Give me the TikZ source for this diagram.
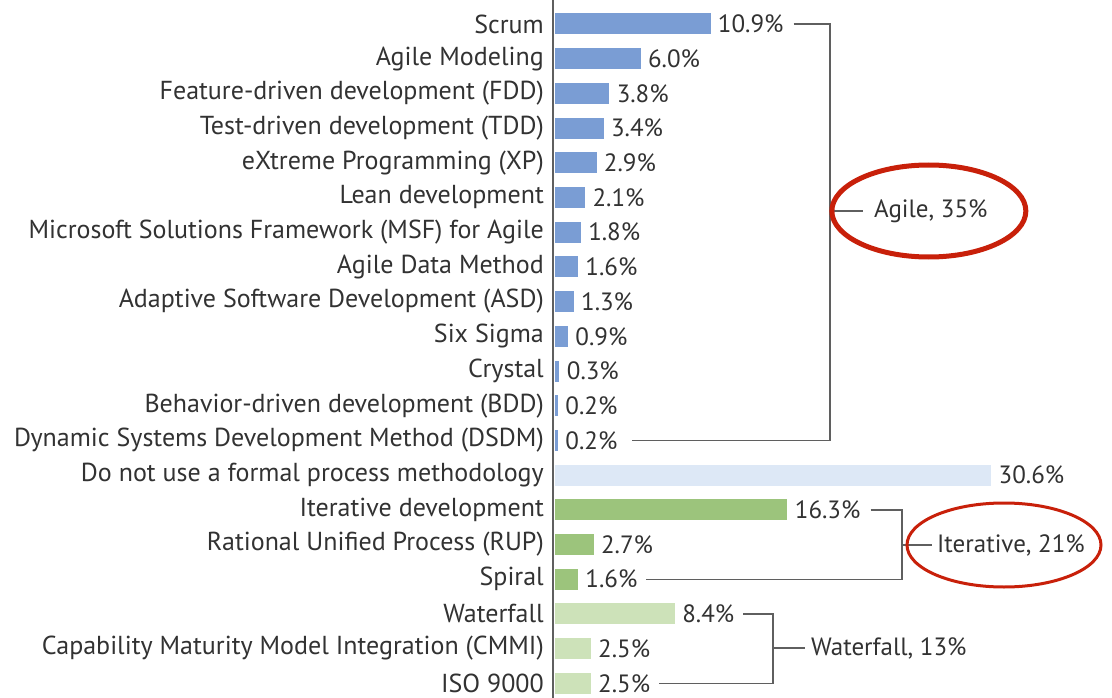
\documentclass[tikz,border=0pt]{standalone}
\usepackage{fontspec}
\setmainfont{PT Sans}
\usetikzlibrary{positioning,calc}
\definecolor{agileblue}{RGB}{122,157,212}
\definecolor{noneblue}{RGB}{221,232,246}
\definecolor{itergreen}{RGB}{156,196,124}
\definecolor{fallgreen}{RGB}{205,226,185}
\definecolor{ringred}{RGB}{200,32,10}
\definecolor{inkgray}{RGB}{50,50,50}
\definecolor{linegray}{RGB}{95,95,95}

\begin{document}
\begin{tikzpicture}[x=1pt,y=-1pt,
  every node/.style={font=\fontsize{25}{30}\selectfont, text=inkgray, inner sep=0pt},
  rowlabel/.style={anchor=east, font=\fontsize{26}{30}\selectfont},
  pct/.style={anchor=west},
  bar/.style={minimum height=21pt, anchor=west},
  bracket/.style={draw=linegray, line width=1.4pt},
  ring/.style={draw=ringred, line width=5pt}]
\useasboundingbox (0,0) rectangle (1112,698);
% axis
\draw[linegray, line width=1.4pt] (553,0) -- (553,698);
% rows: label / share / colour
\foreach \name/\val/\col [count=\i] in {
  Scrum/10.9/agileblue,
  Agile Modeling/6.0/agileblue,
  Feature-driven development (FDD)/3.8/agileblue,
  Test-driven development (TDD)/3.4/agileblue,
  eXtreme Programming (XP)/2.9/agileblue,
  Lean development/2.1/agileblue,
  Microsoft Solutions Framework (MSF) for Agile/1.8/agileblue,
  Agile Data Method/1.6/agileblue,
  Adaptive Software Development (ASD)/1.3/agileblue,
  Six Sigma/0.9/agileblue,
  Crystal/0.3/agileblue,
  Behavior-driven development (BDD)/0.2/agileblue,
  Dynamic Systems Development Method (DSDM)/0.2/agileblue,
  Do not use a formal process methodology/30.6/noneblue,
  Iterative development/16.3/itergreen,
  Rational Unified Process (RUP)/2.7/itergreen,
  Spiral/1.6/itergreen,
  Waterfall/8.4/fallgreen,
  Capability Maturity Model Integration (CMMI)/2.5/fallgreen,
  ISO 9000/2.5/fallgreen} {
  \pgfmathsetmacro{\y}{24+34.7*(\i-1)}
  \node[rowlabel] (lab\i) at (544,\y) {\name};
  \node[bar, fill=\col, minimum width=\val*14.25] (bar\i) at (555,\y) {};
  \node[pct, right=7pt of bar\i] (val\i) {\val\%};
}
% Agile group
\coordinate (agilejoin) at (830,211);
\node[pct] (agile) at (874,211) {Agile, 35\%};
\draw[bracket] ([xshift=10pt]val1.east) -| (agilejoin) |- ([xshift=14pt]val13.east);
\draw[bracket] (agilejoin) -- ([xshift=-11pt]agile.west);
\draw[ring] ([xshift=-2pt]agile.center) ellipse [x radius=97, y radius=46];
% Iterative group
\coordinate (iterjoin) at (902,545);
\node[pct] (iter) at (937,545) {Iterative, 21\%};
\draw[bracket] ([xshift=10pt]val15.east) -| (iterjoin) |- ([xshift=8pt]val17.east);
\draw[bracket] (iterjoin) -- ([xshift=-5pt]iter.west);
\draw[ring, line width=3pt] ([xshift=-7pt]iter.center) ellipse [x radius=97, y radius=42];
% Waterfall group
\coordinate (falljoin) at (773,648);
\node[pct] (fall) at (811,648) {Waterfall, 13\%};
\draw[bracket] ([xshift=9pt]val18.east) -| (falljoin) |- ([xshift=9pt]val20.east);
\draw[bracket] (falljoin) -- ([xshift=-6pt]fall.west);
\end{tikzpicture}
\end{document}
